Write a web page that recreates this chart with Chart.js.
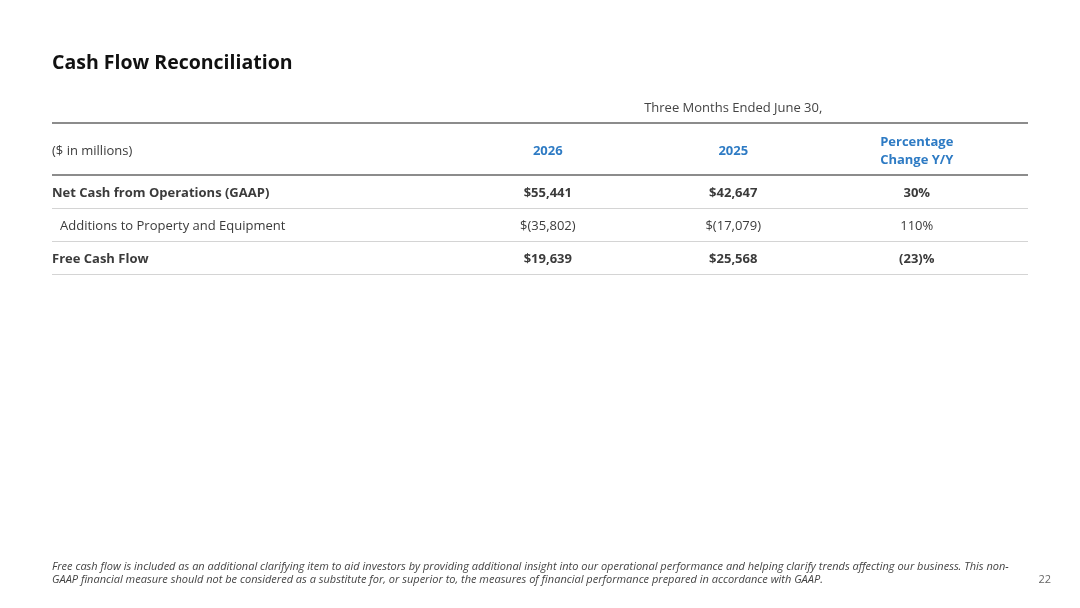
<!DOCTYPE html>
<html>
<head>
<meta charset="utf-8">
<script src="https://cdn.jsdelivr.net/npm/chart.js@4.4.1/dist/chart.umd.min.js"></script>
<style>
  html, body { margin: 0; padding: 0; background: #ffffff; }
  #wrap { position: relative; width: 1080px; height: 608px; }
  canvas { display: block; }
</style>
</head>
<body>
<div id="wrap"><canvas id="c" width="1080" height="608"></canvas></div>
<script>
// ---------- data ----------
const title = 'Cash Flow Reconciliation';
const periodLabel = 'Three Months Ended June 30,';
const unitLabel = '($ in millions)';
const columnHeaders = ['2026', '2025', ['Percentage', 'Change Y/Y']];
const rowLabels = ['Net Cash from Operations (GAAP)', 'Additions to Property and Equipment', 'Free Cash Flow'];
const rowBold = [true, false, true];
const rowIndent = [false, true, false];
const values2026 = [55441, -35802, 19639];
const values2025 = [42647, -17079, 25568];
const pctChange = [30, 110, -23];
const footnote = [
  'Free cash flow is included as an additional clarifying item to aid investors by providing additional insight into our operational performance and helping clarify trends affecting our business. This non-',
  'GAAP financial measure should not be considered as a substitute for, or superior to, the measures of financial performance prepared in accordance with GAAP.'
];
const pageNumber = '22';

// ---------- formatting ----------
const fmtMoney = v => v < 0 ? '$(' + Math.abs(v).toLocaleString('en-US') + ')' : '$' + v.toLocaleString('en-US');
const fmtPct = v => v < 0 ? '(' + Math.abs(v) + ')%' : v + '%';

// column x positions (percent of table width, linear x scale 0..100)
const COL_X = [50.8, 69.8, 88.6];
const FONT = '"Segoe UI", "Open Sans", "Noto Sans", sans-serif';
const TEXT = '#3b3b3b';
const BLUE = '#2e7bc4';
const DY = 1.5; // baseline nudge for middle-aligned text

const datasets = [
  { label: '2026', data: values2026.map((v, i) => ({ x: COL_X[0], y: rowLabels[i] })), text: values2026.map(fmtMoney) },
  { label: '2025', data: values2025.map((v, i) => ({ x: COL_X[1], y: rowLabels[i] })), text: values2025.map(fmtMoney) },
  { label: 'pct', data: pctChange.map((v, i) => ({ x: COL_X[2], y: rowLabels[i] })), text: pctChange.map(fmtPct) }
].map(d => Object.assign(d, { showLine: false, pointRadius: 0, pointHoverRadius: 0 }));

const tablePlugin = {
  id: 'tablePlugin',
  afterDraw(chart) {
    const ctx = chart.ctx;
    const xs = chart.scales.x, ys = chart.scales.y;
    const ca = chart.chartArea;
    ctx.save();
    // title
    ctx.fillStyle = '#111111';
    ctx.font = 'bold 19.5px ' + FONT;
    ctx.textAlign = 'left';
    ctx.textBaseline = 'middle';
    ctx.fillText(title, 52, 62 + DY);

    // header line
    ctx.strokeStyle = '#8c8c8c';
    ctx.lineWidth = 2;
    ctx.beginPath();
    ctx.moveTo(ca.left, ca.top - 52); ctx.lineTo(ca.right, ca.top - 52);
    ctx.stroke();

    // period label
    ctx.fillStyle = '#444444';
    ctx.font = '13px ' + FONT;
    ctx.textAlign = 'center';
    ctx.fillText(periodLabel, xs.getPixelForValue(COL_X[1]), ca.top - 68 + DY);

    // unit label
    ctx.textAlign = 'left';
    ctx.fillStyle = TEXT;
    ctx.fillText(unitLabel, ca.left, ca.top - 25 + DY);

    // column headers
    ctx.fillStyle = BLUE;
    ctx.font = 'bold 13px ' + FONT;
    ctx.textAlign = 'center';
    columnHeaders.forEach((h, i) => {
      const x = xs.getPixelForValue(COL_X[i]);
      if (Array.isArray(h)) {
        ctx.fillText(h[0], x, ca.top - 34 + DY);
        ctx.fillText(h[1], x, ca.top - 16 + DY);
      } else {
        ctx.fillText(h, x, ca.top - 25 + DY);
      }
    });

    // row labels
    rowLabels.forEach((r, i) => {
      const y = ys.getPixelForValue(i);
      ctx.fillStyle = TEXT;
      ctx.font = (rowBold[i] ? 'bold ' : '') + '13px ' + FONT;
      ctx.textAlign = 'left';
      ctx.fillText(r, ca.left + (rowIndent[i] ? 8 : 0), y + DY);
    });

    // cells
    chart.data.datasets.forEach((ds, di) => {
      const meta = chart.getDatasetMeta(di);
      meta.data.forEach((pt, i) => {
        ctx.fillStyle = TEXT;
        ctx.font = (rowBold[i] ? 'bold ' : '') + '13px ' + FONT;
        ctx.textAlign = 'center';
        ctx.fillText(ds.text[i], pt.x, pt.y + DY);
      });
    });

    // footnote
    ctx.fillStyle = '#444444';
    ctx.font = 'italic 11px ' + FONT;
    ctx.textAlign = 'left';
    ctx.fillText(footnote[0], 52, 565 + DY);
    ctx.fillText(footnote[1], 52, 578 + DY);
    ctx.textAlign = 'right';
    ctx.font = '11px ' + FONT;
    ctx.fillStyle = '#666666';
    ctx.fillText(pageNumber, 1051, 578 + DY);
    ctx.restore();
  }
};

new Chart(document.getElementById('c'), {
  type: 'line',
  data: { labels: rowLabels, datasets },
  options: {
    responsive: false,
    animation: false,
    devicePixelRatio: 1,
    events: [],
    layout: { padding: { left: 52, right: 52, top: 175, bottom: 334 } },
    plugins: { legend: { display: false }, tooltip: { enabled: false } },
    scales: {
      x: { type: 'linear', min: 0, max: 100, display: false },
      y: {
        type: 'category',
        offset: true,
        border: { display: false },
        ticks: { display: false },
        grid: {
          offset: true,
          drawTicks: false,
          color: c => (c.index === 0 ? '#8c8c8c' : '#d4d4d4'),
          lineWidth: c => (c.index === 0 ? 2 : 1)
        }
      }
    }
  },
  plugins: [tablePlugin]
});
</script>
</body>
</html>
